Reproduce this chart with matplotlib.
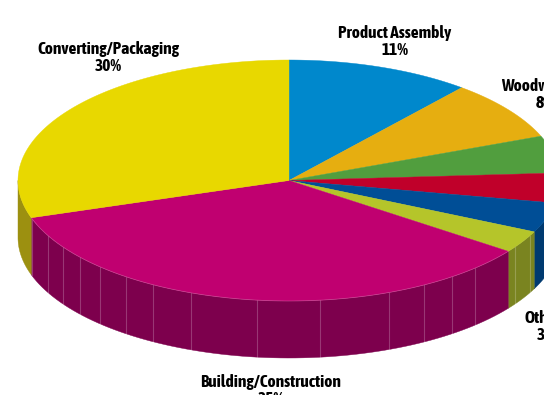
import numpy as np
import matplotlib
matplotlib.use("Agg")
import matplotlib.pyplot as plt
from matplotlib.patches import Polygon

# market share by segment, clockwise from 12 o'clock
segments = ["Product Assembly", "Woodworking", "Other A", "Other B", "Other C",
            "Others", "Building/Construction", "Converting/Packaging"]
shares = [11, 8, 5, 4, 4, 3, 35, 30]
top_colors = ["#0088CC", "#E6AE10", "#519E3E", "#C0002A", "#004E96",
              "#B5C52A", "#C00070", "#E8D800"]
side_colors = ["#00659A", "#A8800C", "#3A732C", "#8C001F", "#003A70",
               "#7A8420", "#7D004D", "#9C9010"]

# seams on the rim, as a percentage position round the pie
seam_pcts = [38.0, 39.7, 41.7, 44.0, 48.2, 51.9, 55.9, 58.4, 60.3, 62.3, 64.0, 65.7, 67.4, 69.9]
seam_pcts_olive = [34.3, 32.6]

labels = [("Product Assembly\n11%", 395, 41.5),
          ("Woodworking\n8%", 545, 94.5),
          ("Others\n3%", 546, 326.5),
          ("Building/Construction\n35%", 271, 390.5),
          ("Converting/Packaging\n30%", 108, 57.5)]

W, H = 544, 395
CX, CY = 289, 180.5
RX, RY = 271, 120.5
DEPTH = 57


def rim(pct):
    # point on the top ellipse, pct measured clockwise from the top
    a = np.asarray(pct) / 100 * 2 * np.pi
    return CX + RX * np.sin(a), CY - RY * np.cos(a)


fig = plt.figure(figsize=(W / 100, H / 100), dpi=100)
ax = fig.add_axes([0, 0, 1, 1])
ax.set_xlim(0, W)
ax.set_ylim(H, 0)
ax.axis("off")

edges = np.concatenate([[0], np.cumsum(shares)])

# rim of the disc, only the part facing front (25% to 75%)
for i in range(len(shares)):
    lo, hi = max(edges[i], 25), min(edges[i + 1], 75)
    if hi <= lo:
        continue
    t = np.linspace(lo, hi, 80)
    x, y = rim(t)
    pts = np.column_stack([np.r_[x, x[::-1]], np.r_[y, y[::-1] + DEPTH]])
    ax.add_patch(Polygon(pts, closed=True, fc=side_colors[i], ec=side_colors[i], lw=0.3, zorder=1))

for p in seam_pcts + seam_pcts_olive:
    x, y = rim(p)
    ax.plot([x, x], [y, y + DEPTH], color="white", alpha=0.22, lw=0.8, zorder=2)

# top face
for i in range(len(shares)):
    t = np.linspace(edges[i], edges[i + 1], 120)
    x, y = rim(t)
    pts = np.column_stack([np.r_[CX, x], np.r_[CY, y]])
    ax.add_patch(Polygon(pts, closed=True, fc=top_colors[i], ec=top_colors[i], lw=0.3, zorder=3))

# faint highlight where the magenta top meets its rim
x, y = rim(np.linspace(edges[6], edges[7], 200))
ax.plot(x, y, color="white", alpha=0.2, lw=0.6, zorder=4)

for text, x, y in labels:
    ax.text(x, y, text, ha="center", va="center", fontsize=12.5, fontweight="bold",
            family=["Asap Condensed", "Liberation Sans", "DejaVu Sans"],
            color="black", linespacing=1.15, zorder=5, clip_on=False)

fig.savefig("out.png", dpi=100, facecolor="white")
